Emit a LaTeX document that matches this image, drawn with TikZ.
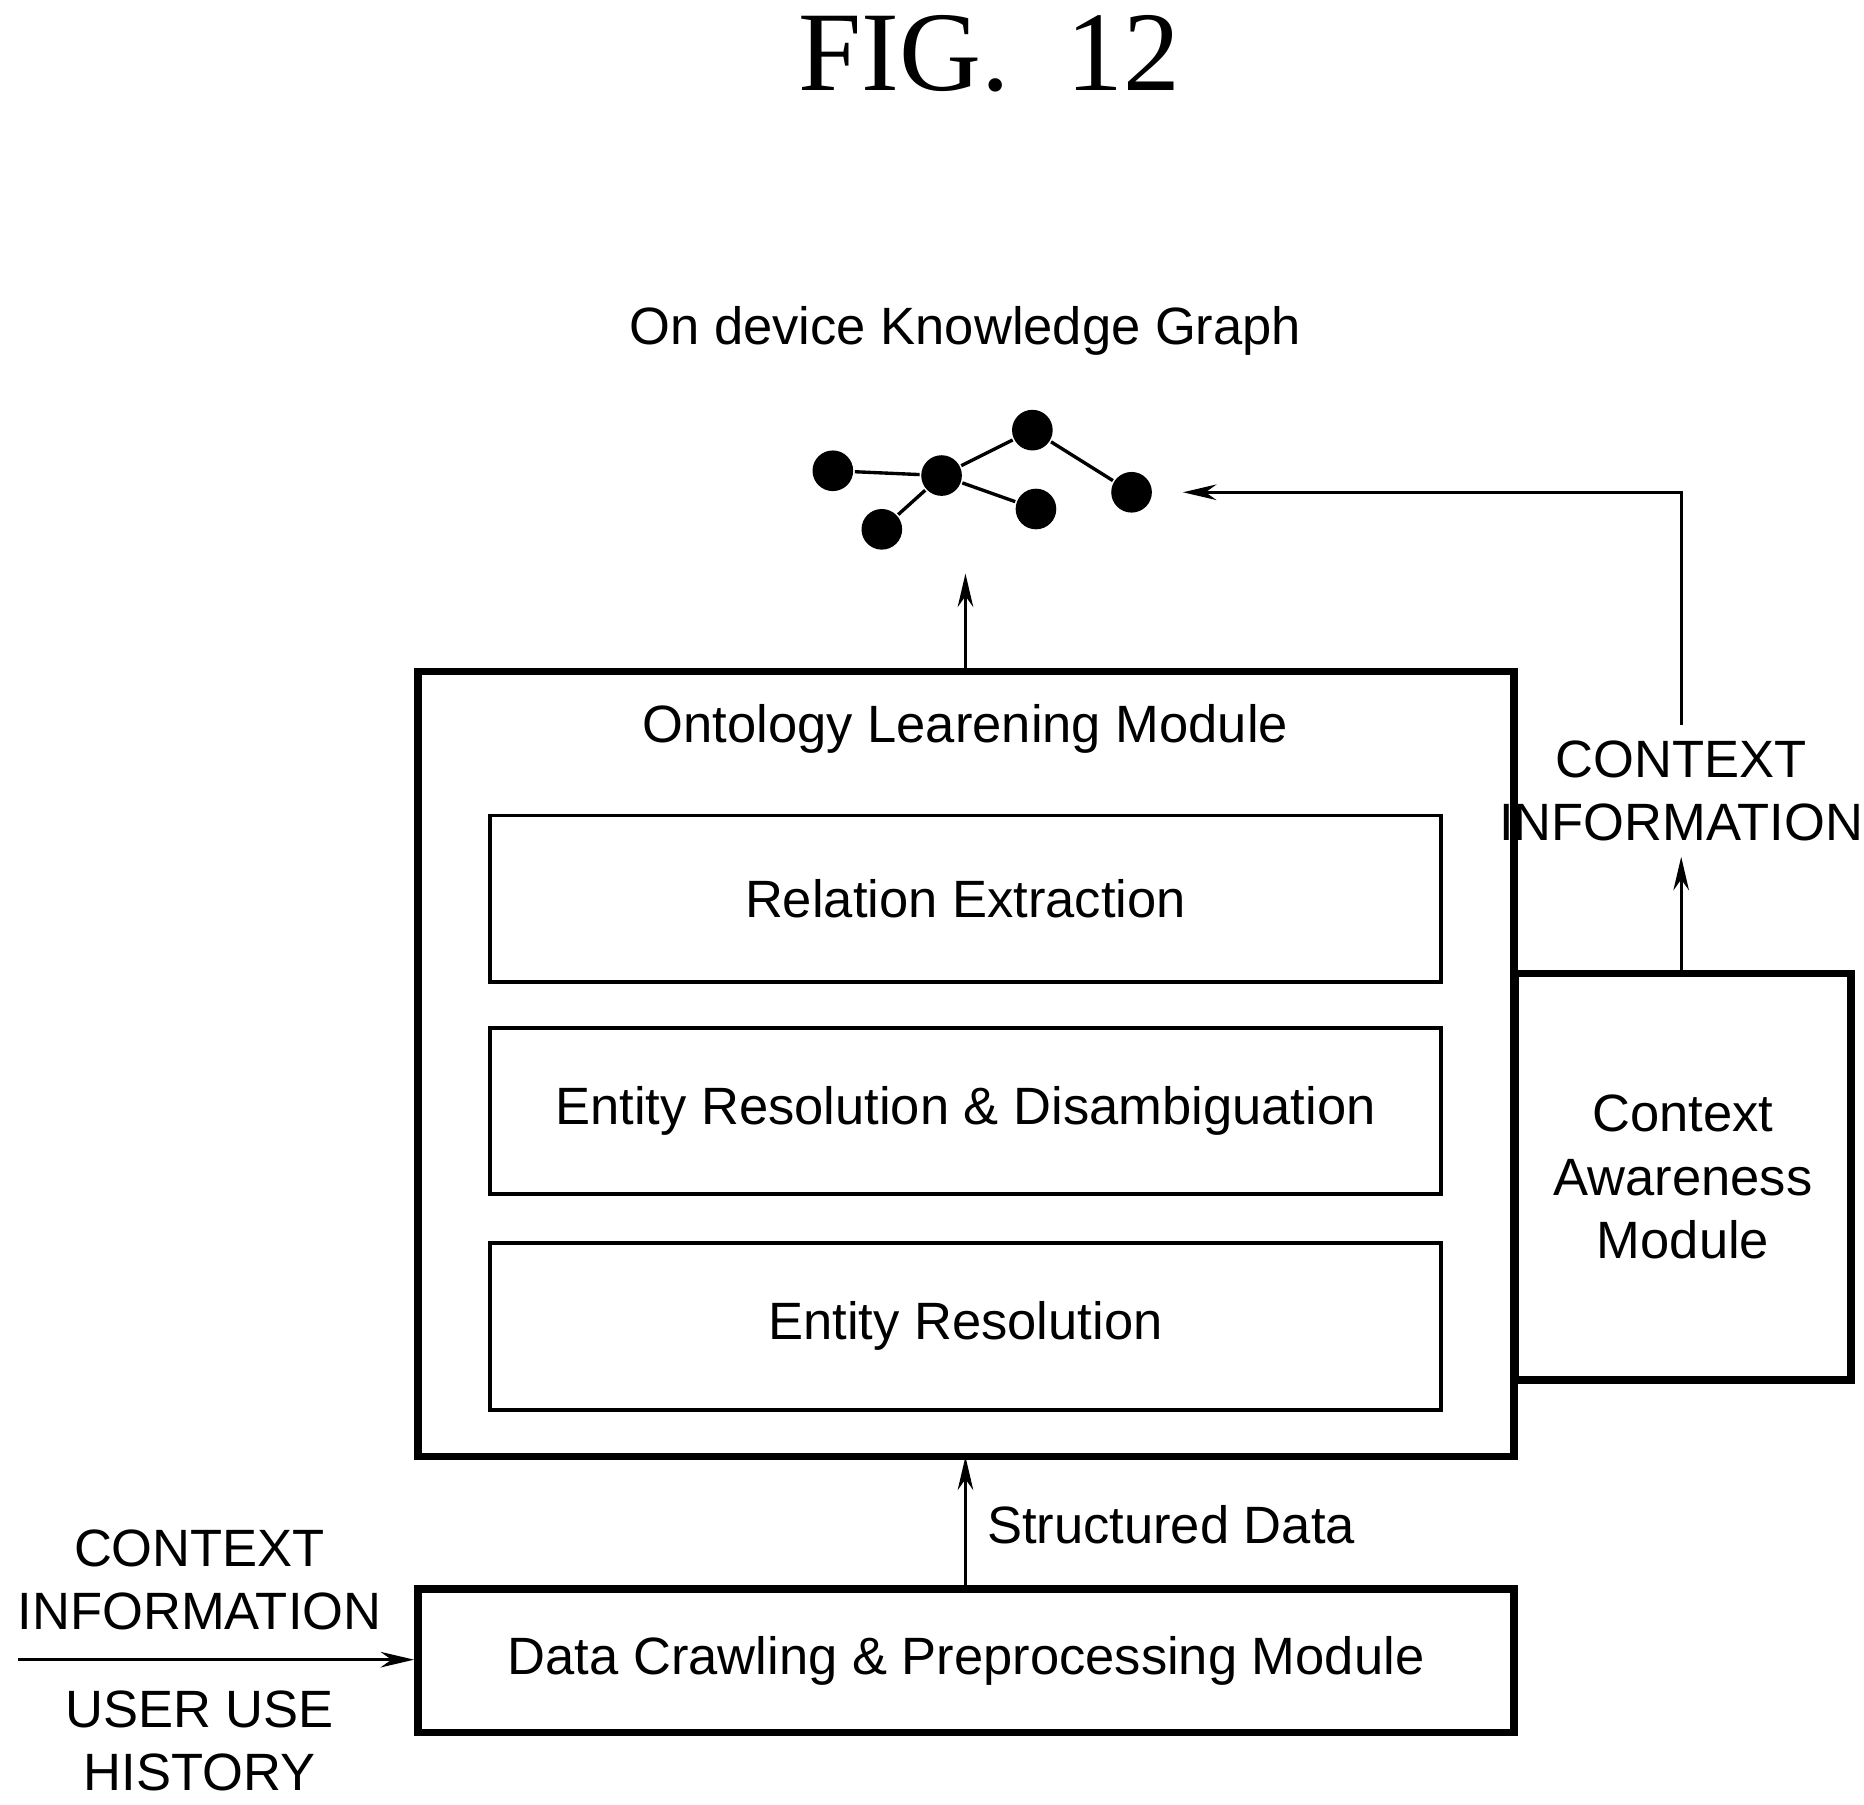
\documentclass[tikz,border=0pt]{standalone}
\usepackage{fontspec}
\setmainfont{Liberation Sans}
\newfontfamily\figfont{Liberation Serif}
\usetikzlibrary{positioning,arrows.meta}

\tikzset{
  blk/.style={draw, line width=0.9pt, inner sep=0pt},
  outer/.style={draw, line width=1.8pt, inner sep=0pt},
  kg/.style={circle, fill=black, minimum size=0.34cm, inner sep=0pt},
  arr/.style={-{Stealth[length=0.28cm, width=0.13cm]}, line width=0.8pt},
  txt/.style={font=\fontsize{12.5}{15}\selectfont, align=center}
}

\begin{document}
\begin{tikzpicture}[x=0.01cm, y=-0.01cm, line width=0.8pt]
\useasboundingbox (0,0) rectangle (1560,1510);

\node[font=\figfont\fontsize{27}{30}\selectfont] (fig) at (828,45) {FIG.\ \ 12};
\node[txt] (kgtitle) at (808,277) {On device Knowledge Graph};

% knowledge graph
\node[kg] (g1) at (697,394) {};
\node[kg] (g2) at (788,398) {};
\node[kg] (g3) at (864,360) {};
\node[kg] (g4) at (947,412) {};
\node[kg] (g5) at (738,443) {};
\node[kg] (g6) at (867,426) {};
\draw (g1) -- (g2) -- (g3) -- (g4);
\draw (g2) -- (g5);
\draw (g2) -- (g6);
\coordinate (kgin) at (808,480);
\coordinate (kgright) at (990,412);

% ontology module
\draw[outer] (350,562) rectangle (1267,1219);
\coordinate (ontotop) at (808,562);
\coordinate (ontobot) at (808,1219);
\node[txt] (onto) at (808,610) {Ontology Learening Module};
\node[blk, minimum width=7.95cm, minimum height=1.39cm, txt] (rel) at (808,752) {Relation Extraction};
\node[blk, minimum width=7.95cm, minimum height=1.39cm, txt] (erd) at (808,930) {Entity Resolution \& Disambiguation};
\node[blk, minimum width=7.95cm, minimum height=1.40cm, txt] (er) at (808,1110) {Entity Resolution};

% context awareness
\node[outer, minimum width=2.81cm, minimum height=3.40cm, txt] (cam) at (1408.5,985) {Context\\Awareness\\Module};
\node[txt] (ctx1) at (1407,662) {CONTEXT\\INFORMATION};
\coordinate (bend) at (1407,412);

% data crawling
\node[outer, minimum width=9.17cm, minimum height=1.20cm, txt] (dcp) at (808.5,1390) {Data Crawling \& Preprocessing Module};
\coordinate (inp) at (15,1389);
\node[txt] (ctx2) at (167,1322) {CONTEXT\\INFORMATION};
\node[txt] (uuh) at (167,1457) {USER USE\\HISTORY};
\node[txt] (sd) at (980,1276) {Structured Data};

\draw[arr] (ontotop) -- (kgin);
\draw[arr] (cam.north -| ctx1) -- (ctx1.south);
\draw[arr] (ctx1.north) -- (bend) -- (kgright);
\draw[arr] (dcp.north -| ontobot) -- (ontobot);
\draw[arr] (inp) -- (inp -| dcp.west);
\end{tikzpicture}
\end{document}
